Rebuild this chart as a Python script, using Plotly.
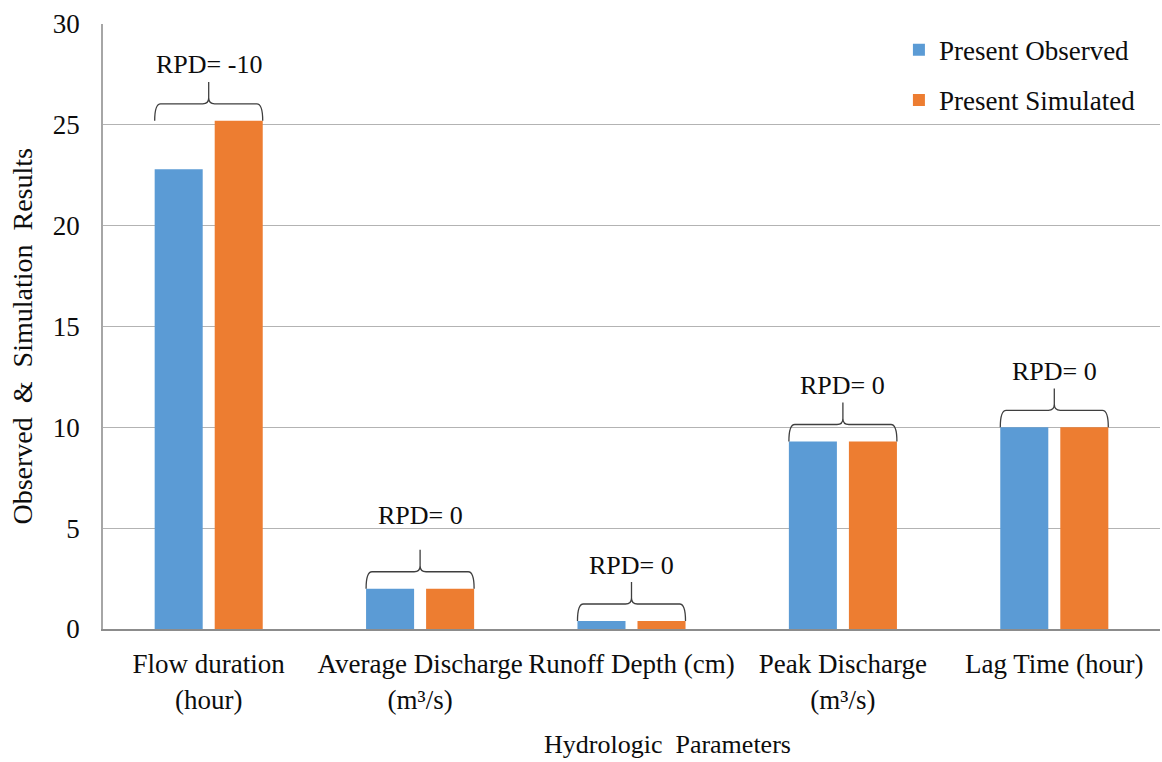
import plotly.graph_objects as go

# Hydrologic parameters compared: observed vs simulated (present conditions)
categories = [
    "Flow duration<br>(hour)",
    "Average Discharge<br>(m³/s)",
    "Runoff Depth (cm)",
    "Peak Discharge<br>(m³/s)",
    "Lag Time (hour)",
]
observed = [22.8, 2.0, 0.4, 9.3, 10.0]
simulated = [25.2, 2.0, 0.4, 9.3, 10.0]
rpd_labels = ["RPD= -10", "RPD= 0", "RPD= 0", "RPD= 0", "RPD= 0"]
y_ticks = [0, 5, 10, 15, 20, 25, 30]

BLUE = "#5B9BD5"
ORANGE = "#ED7D31"
FONT = "Liberation Serif, Times New Roman, serif"
TEXT = "#0d0d0d"

x_pos = list(range(len(categories)))

fig = go.Figure()
fig.add_trace(go.Bar(x=x_pos, y=observed, name="Present Observed",
                     marker=dict(color=BLUE, line=dict(width=0)),
                     legendgroup="obs"))
fig.add_trace(go.Bar(x=x_pos, y=simulated, name="Present Simulated",
                     marker=dict(color=ORANGE, line=dict(width=0)),
                     legendgroup="sim"))

# Curly braces spanning each bar pair, with the RPD label above
half_w = 0.2555   # half the width of a bar pair, in category units
rise = 0.84       # end of brace up to its horizontal run
peak = 1.09       # horizontal run up to the brace tip
rx, ry = 0.028, 0.30
label_lift = [0.84, 1.70, 0.84, 0.84, 0.84]

shapes = []
annotations = []
for i, (o, s, lab) in enumerate(zip(observed, simulated, rpd_labels)):
    c = x_pos[i]
    y0 = max(o, s)
    yh = y0 + rise
    yt = yh + peak
    path = (
        f"M {c-half_w},{y0} Q {c-half_w},{yh} {c-half_w+rx},{yh} "
        f"L {c-rx},{yh} Q {c},{yh} {c},{yh+ry} L {c},{yt} "
        f"M {c},{yh+ry} Q {c},{yh} {c+rx},{yh} "
        f"L {c+half_w-rx},{yh} Q {c+half_w},{yh} {c+half_w},{y0}"
    )
    shapes.append(dict(type="path", path=path, xref="x", yref="y",
                       line=dict(color="#3f3f3f", width=1.3)))
    annotations.append(dict(x=c, y=yt + label_lift[i], xref="x", yref="y",
                            text=lab, showarrow=False, yanchor="middle",
                            font=dict(family=FONT, size=26, color=TEXT)))

# Axis titles
annotations.append(dict(x=-0.0766, y=0.4835, xref="paper", yref="paper",
                        text="Observed &nbsp;&amp;&nbsp; Simulation &nbsp;Results",
                        textangle=-90, showarrow=False,
                        xanchor="center", yanchor="middle",
                        font=dict(family=FONT, size=28, color=TEXT)))
annotations.append(dict(x=0.5345, y=-0.1917, xref="paper", yref="paper",
                        text="Hydrologic  Parameters", showarrow=False,
                        xanchor="center", yanchor="middle",
                        font=dict(family=FONT, size=26, color=TEXT)))

fig.update_layout(
    width=1162, height=762,
    margin=dict(l=103, r=2, t=24, b=133),
    paper_bgcolor="white", plot_bgcolor="white",
    barmode="group", bargap=0.432, bargroupgap=0.2,
    font=dict(family=FONT, size=26, color=TEXT),
    shapes=shapes, annotations=annotations,
    legend=dict(x=0.753, y=0.997, xanchor="left", yanchor="top",
                bgcolor="rgba(0,0,0,0)", traceorder="grouped",
                tracegroupgap=12, font=dict(family=FONT, size=27, color=TEXT),
                itemwidth=30),
    showlegend=True,
)
fig.update_xaxes(range=[-0.5, 4.5], tickmode="array", tickvals=x_pos,
                 ticktext=categories, showgrid=False, zeroline=False,
                 showline=True, linecolor="#8c8c8c", linewidth=2,
                 ticks="", ticklabelstandoff=10,
                 tickfont=dict(family=FONT, size=27, color=TEXT))
fig.update_yaxes(range=[0, 30], tickmode="array", tickvals=y_ticks,
                 showgrid=True, gridcolor="#b3b3b3", gridwidth=1.3,
                 zeroline=False, showline=True, linecolor="#a6a6a6",
                 linewidth=1.5, ticks="", ticklabelstandoff=16,
                 tickfont=dict(family=FONT, size=27, color=TEXT))

fig.write_html("out.html")
